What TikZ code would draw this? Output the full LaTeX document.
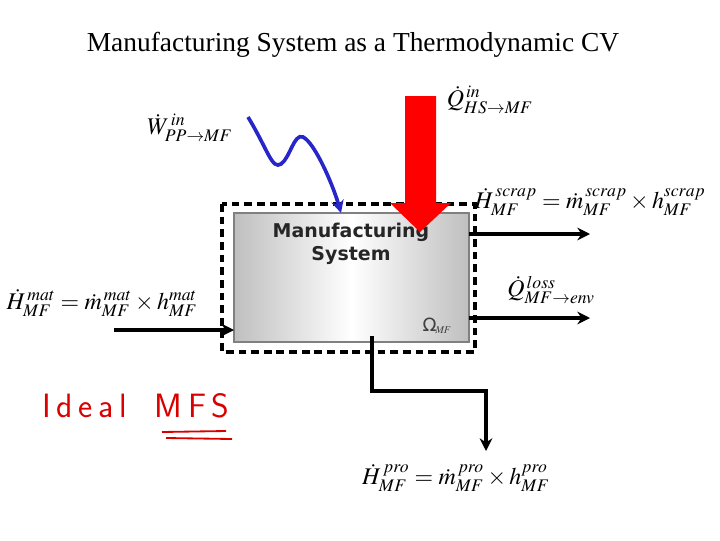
\documentclass[tikz,border=0pt]{standalone}
\usepackage{mathptmx}
\usepackage{fontspec}
\setmainfont{Liberation Serif}
\newfontfamily\boxfont{DejaVu Sans}
\usetikzlibrary{arrows.meta, calc}

\begin{document}
\begin{tikzpicture}[x=0.025cm, y=-0.025cm, thick]
            \useasboundingbox (0,0) rectangle (720,540);

            % title
            \node (title) at (353, 45) {\fontsize{19.5}{22}\selectfont Manufacturing System as a Thermodynamic CV};

            % the system and its control volume
            \coordinate (S1) at (234, 213);
            \coordinate (S2) at (469, 342);
            \shade[left color=gray!50, right color=gray!50, middle color=white, draw=gray, line width=0.8pt] (S1) rectangle (S2);
            \node[font=\boxfont\bfseries\fontsize{13.5}{16}\selectfont, text=black!85, align=center] (sys) at (351, 244) {Manufacturing\\System};
            \node[text=black!75] (omega) at (437, 326) {{\boxfont\fontsize{13}{15}\selectfont Ω}\kern-1pt$_{\scriptstyle\mathit{MF}}$};
            \draw[dashed, line width=2.5pt, dash pattern=on 5.5pt off 3.5pt] (222, 204) rectangle (475, 352);

            % work in
            \coordinate (W1) at (248, 117);
            \coordinate (W2) at (341, 213);
            \draw[-{Stealth[length=9pt, width=9pt]}, line width=2.6pt, blue!75!black!85] (W1) .. controls (268, 150) and (272, 170) .. (281, 164)
                .. controls (290, 158) and (294, 133) .. (303, 137) .. controls (315, 143) and (333, 185) .. (W2);
            \node (Wlab) at (190, 128) {\fontsize{17}{19}\selectfont $\dot{W}^{\,in}_{PP\rightarrow MF}$};

            % heat in
            \coordinate (Q1) at (420, 96);
            \coordinate (Q2) at (420, 232);
            \fill[red] (405, 96) -- (436, 96) -- (436, 203) -- (451, 203) -- (Q2) -- (390, 203) -- (405, 203) -- cycle;
            \node (Qin) at (490, 100) {\fontsize{17}{19}\selectfont $\dot{Q}^{\,in}_{HS\rightarrow MF}$};

            % material in
            \coordinate (M1) at (114, 330);
            \coordinate (M2) at (234, 330);
            \draw[-{Stealth[length=9pt, width=9pt]}, line width=2.3pt] (M1) -- (M2);
            \node (Hmat) at (102, 303) {\fontsize{17}{19}\selectfont $\dot{H}^{\,mat}_{MF} = \dot{m}^{\,mat}_{MF} \times h^{mat}_{MF}$};

            % scrap out
            \coordinate (C1) at (469, 234);
            \coordinate (C2) at (590, 234);
            \draw[-{Stealth[length=9pt, width=9pt]}, line width=2.3pt] (C1) -- (C2);
            \node (Hscrap) at (590, 202) {\fontsize{17}{19}\selectfont $\dot{H}^{\,scrap}_{MF} = \dot{m}^{\,scrap}_{MF} \times h^{scrap}_{MF}$};

            % heat loss
            \coordinate (L1) at (469, 318);
            \coordinate (L2) at (590, 318);
            \draw[-{Stealth[length=9pt, width=9pt]}, line width=2.3pt] (L1) -- (L2);
            \node (Qloss) at (551, 290) {\fontsize{17}{19}\selectfont $\dot{Q}^{\,loss}_{MF\rightarrow env}$};

            % product out
            \coordinate (P1) at (372, 336);
            \coordinate (P2) at (486, 451);
            \draw[-{Stealth[length=9pt, width=9pt]}, line width=2.3pt] (P1) |- (486, 391) -- (P2);
            \node (Hpro) at (456, 478) {\fontsize{17}{19}\selectfont $\dot{H}^{\,pro}_{MF} = \dot{m}^{\,pro}_{MF} \times h^{pro}_{MF}$};

            % note
            \node[text=red!85!black, font=\sffamily\fontsize{24}{27}\selectfont] (note) at (136, 406) {I\,d\,e\,a\,l\hspace{20pt}M\,F\,S};
            \draw[red!85!black, line width=1.3pt] (162, 432) -- (226, 431);
            \draw[red!85!black, line width=1.3pt] (166, 438) -- (232, 439);
        \end{tikzpicture}
\end{document}
